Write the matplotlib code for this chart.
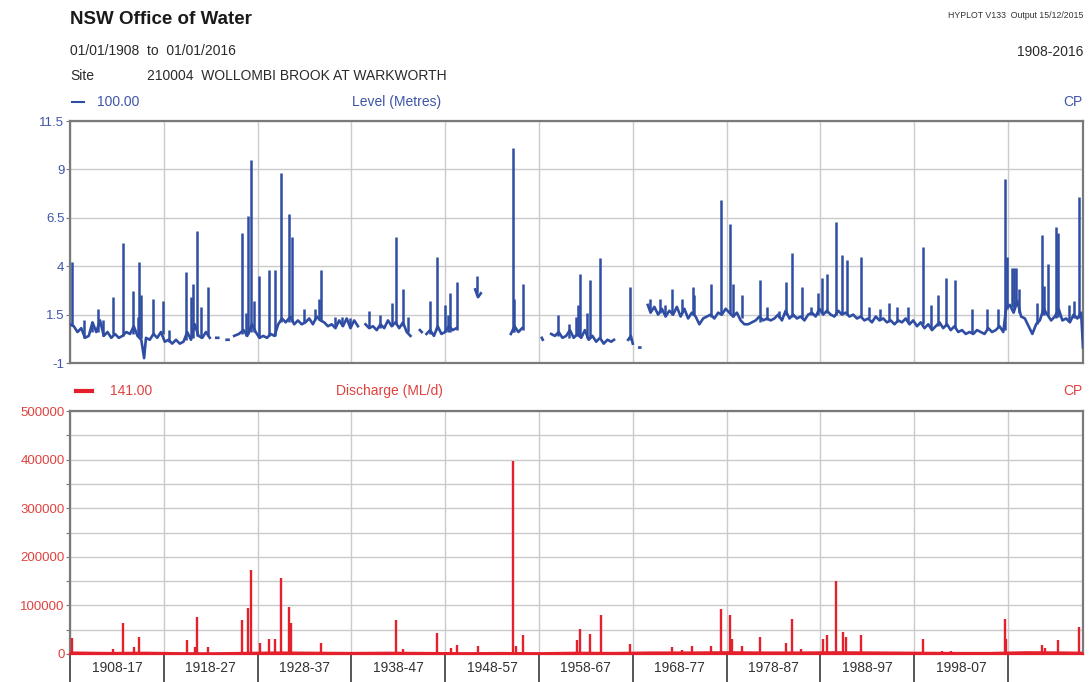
import numpy as np
import matplotlib
matplotlib.use("Agg")
import matplotlib.pyplot as plt
from matplotlib.lines import Line2D

plt.rcParams['font.family'] = ['Liberation Sans', 'DejaVu Sans']

nan = np.nan

# level (m) - baseline trace, nan marks a gap in the record
lvl_years = [1908.0, 1908.4, 1908.8, 1909.2, 1909.6, 1910.0, 1910.4, 1910.8, 1911.2, 1911.6,
             1912.0, 1912.4, 1912.8, 1913.2, 1913.6, 1914.0, 1914.4, 1914.8, 1915.2, 1915.6,
             1915.9, 1916.1, 1916.5, 1916.9, 1917.3, 1917.7, 1918.1, 1918.5, 1918.9, 1919.3,
             1919.7, 1920.1, 1920.5, 1920.9, 1921.3, 1921.7, 1922.1, 1922.5, 1922.9, 1923.2,
             1923.6, 1923.8, 1923.9, 1924.7, 1924.9, 1925.0, 1925.5, 1926.0, 1926.5, 1926.9,
             1927.4, 1927.8, 1928.2, 1928.6, 1929.0, 1929.4, 1929.8, 1930.2, 1930.6, 1931.0,
             1931.5, 1931.9, 1932.3, 1932.7, 1933.1, 1933.5, 1933.9, 1934.3, 1934.7, 1935.1,
             1935.5, 1935.9, 1936.3, 1936.7, 1937.1, 1937.5, 1937.9, 1938.3, 1938.7, 1939.1,
             1939.5, 1939.9, 1940.3, 1940.7, 1941.1, 1941.5, 1941.9, 1942.3, 1942.7, 1943.1,
             1943.5, 1943.9, 1944.3, 1944.6, 1945.3, 1945.5, 1945.7, 1946.0, 1946.4, 1946.8,
             1947.2, 1947.6, 1948.0, 1948.4, 1948.8, 1949.2, 1949.5, 1951.2, 1951.5, 1951.8,
             1952.0, 1955.0, 1955.4, 1955.8, 1956.2, 1956.5, 1958.3, 1958.4, 1958.5, 1959.3,
             1959.7, 1960.1, 1960.5, 1960.9, 1961.3, 1961.7, 1962.1, 1962.5, 1962.9, 1963.3,
             1963.7, 1964.1, 1964.5, 1964.9, 1965.3, 1965.7, 1966.0, 1966.2, 1967.5, 1967.8,
             1968.0, 1968.2, 1968.7, 1968.8, 1969.0, 1969.6, 1969.9, 1970.3, 1970.7, 1971.1,
             1971.5, 1971.9, 1972.3, 1972.7, 1973.1, 1973.5, 1973.9, 1974.3, 1974.7, 1975.1,
             1975.5, 1975.9, 1976.3, 1976.7, 1977.1, 1977.5, 1977.9, 1978.3, 1978.7, 1979.1,
             1979.5, 1979.9, 1980.3, 1980.7, 1981.1, 1981.5, 1981.9, 1982.3, 1982.7, 1983.1,
             1983.5, 1983.9, 1984.3, 1984.7, 1985.1, 1985.5, 1985.9, 1986.3, 1986.7, 1987.1,
             1987.5, 1987.9, 1988.3, 1988.7, 1989.1, 1989.5, 1989.9, 1990.3, 1990.7, 1991.1,
             1991.5, 1991.9, 1992.3, 1992.7, 1993.1, 1993.5, 1993.9, 1994.3, 1994.7, 1995.1,
             1995.5, 1995.9, 1996.3, 1996.7, 1997.1, 1997.5, 1997.9, 1998.3, 1998.7, 1999.1,
             1999.5, 1999.9, 2000.3, 2000.7, 2001.1, 2001.5, 2001.9, 2002.3, 2002.7, 2003.1,
             2003.5, 2003.9, 2004.3, 2004.7, 2005.1, 2005.5, 2005.9, 2006.3, 2006.7, 2007.1,
             2007.5, 2007.8, 2008.2, 2008.6, 2009.0, 2009.4, 2009.8, 2010.2, 2010.6, 2011.0,
             2011.4, 2011.8, 2012.2, 2012.6, 2013.0, 2013.4, 2013.8, 2014.2, 2014.6, 2015.0,
             2015.4, 2015.8, 2016.0]
lvl_vals = [1.0, 0.9, 0.6, 0.8, 0.3, 0.4, 1.1, 0.6, 1.2, 0.4,
            0.6, 0.3, 0.5, 0.3, 0.4, 0.6, 0.5, 0.9, 0.4, 0.2,
            -0.75, 0.3, 0.2, 0.5, 0.3, 0.6, 0.1, 0.2, 0.0, 0.2,
            0.0, 0.1, 0.6, 0.2, 1.0, 0.4, 0.3, 0.6, 0.3, nan,
            0.3, 0.3, nan, 0.2, 0.2, nan, 0.4, 0.5, 0.7, 0.4,
            1.0, 0.6, 0.3, 0.4, 0.3, 0.5, 0.4, 1.0, 1.3, 1.1,
            1.4, 1.0, 1.2, 1.0, 1.1, 1.3, 1.0, 1.4, 1.2, 1.1,
            0.9, 1.0, 0.8, 1.2, 0.9, 1.3, 0.8, 1.2, 0.9, nan,
            1.0, 0.8, 0.9, 0.7, 1.0, 0.8, 1.2, 0.9, 1.1, 0.8,
            1.1, 0.6, 0.4, nan, 0.7, 0.6, nan, 0.5, 0.7, 0.4,
            0.9, 0.5, 0.6, 0.9, 0.7, 0.8, nan, 2.8, 2.4, 2.6,
            nan, 0.5, 0.9, 0.6, 0.8, nan, 0.3, 0.2, nan, 0.5,
            0.4, 0.6, 0.3, 0.4, 0.7, 0.3, 0.5, 0.3, 0.7, 0.2,
            0.4, 0.1, 0.3, 0.0, 0.2, 0.1, 0.2, nan, 0.2, 0.4,
            0.0, nan, -0.2, -0.2, nan, 2.0, 1.6, 1.9, 1.5, 1.8,
            1.4, 1.7, 1.5, 1.9, 1.4, 1.8, 1.3, 1.6, 1.4, 1.0,
            1.3, 1.4, 1.5, 1.3, 1.6, 1.5, 1.8, 1.6, 1.4, 1.6,
            1.2, 1.0, 1.0, 1.1, 1.2, 1.4, 1.2, 1.3, 1.2, 1.3,
            1.5, 1.2, 1.7, 1.3, 1.5, 1.3, 1.4, 1.2, 1.5, 1.6,
            1.4, 1.8, 1.5, 1.7, 1.5, 1.4, 1.7, 1.5, 1.6, 1.4,
            1.5, 1.3, 1.4, 1.2, 1.3, 1.1, 1.4, 1.2, 1.3, 1.1,
            1.2, 1.0, 1.2, 1.1, 1.3, 1.0, 1.2, 0.9, 1.1, 0.8,
            1.0, 0.7, 0.9, 1.1, 0.8, 1.0, 0.7, 0.9, 0.6, 0.7,
            0.5, 0.6, 0.5, 0.7, 0.6, 0.5, 0.8, 0.6, 0.7, 0.9,
            0.6, 1.8, 2.0, 1.6, 2.2, 1.4, 1.3, 0.9, 0.5, 1.0,
            1.2, 1.8, 1.5, 1.2, 1.4, 1.8, 1.2, 1.3, 1.1, 1.5,
            1.3, 1.6, -0.2]

# level flood peaks: year, peak, level at foot of the peak
lvl_peak_years = [1908.2, 1909.5, 1910.3, 1911.0, 1911.5, 1912.6, 1913.7, 1914.7, 1915.2, 1915.4,
                  1915.6, 1916.9, 1917.9, 1918.6, 1920.4, 1920.95, 1921.1, 1921.5, 1922.0, 1922.7,
                  1926.3, 1926.8, 1927.0, 1927.3, 1927.6, 1928.2, 1929.2, 1929.9, 1930.5, 1931.3,
                  1931.7, 1932.9, 1934.1, 1934.6, 1934.8, 1936.3, 1937.0, 1937.8, 1939.9, 1941.0,
                  1942.3, 1942.8, 1943.5, 1944.0, 1946.4, 1947.1, 1948.0, 1948.3, 1948.5, 1949.3,
                  1951.4, 1955.2, 1955.3, 1956.3, 1960.0, 1961.2, 1961.9, 1962.2, 1962.4, 1963.1,
                  1963.4, 1964.5, 1967.7, 1969.8, 1970.9, 1971.4, 1972.2, 1973.3, 1974.4, 1974.5,
                  1976.3, 1977.4, 1978.4, 1978.7, 1979.6, 1981.6, 1982.3, 1983.6, 1984.3, 1985.0,
                  1986.0, 1987.0, 1987.7, 1988.2, 1988.7, 1989.7, 1990.3, 1990.8, 1992.3, 1993.2,
                  1994.4, 1995.3, 1996.2, 1997.3, 1998.9, 1999.8, 2000.5, 2001.4, 2002.4, 2004.2,
                  2005.8, 2006.9, 2007.7, 2007.85, 2008.4, 2008.6, 2008.9, 2009.2, 2011.1, 2011.6,
                  2011.8, 2012.3, 2013.1, 2013.3, 2014.5, 2015.0, 2015.6]
lvl_peak_tops = [4.2, 1.2, 1.1, 1.8, 1.2, 2.4, 5.2, 2.7, 1.4, 4.2,
                 2.5, 2.3, 2.2, 0.7, 3.7, 2.4, 3.1, 5.8, 1.9, 2.9,
                 5.7, 1.6, 6.6, 9.5, 2.2, 3.5, 3.8, 3.8, 8.8, 6.7,
                 5.5, 1.8, 1.8, 2.3, 3.8, 1.4, 1.4, 1.3, 1.7, 1.5,
                 2.1, 5.5, 2.8, 1.4, 2.2, 4.5, 2.0, 1.5, 2.6, 3.2,
                 3.5, 10.1, 2.3, 3.1, 1.5, 1.0, 1.4, 2.0, 3.6, 1.6,
                 3.3, 4.4, 2.9, 2.3, 2.3, 2.0, 2.8, 2.3, 2.9, 2.5,
                 3.1, 7.4, 6.2, 3.1, 2.5, 3.3, 1.9, 1.7, 3.2, 4.7,
                 2.9, 1.9, 2.6, 3.4, 3.6, 6.3, 4.6, 4.3, 4.5, 1.9,
                 1.8, 2.1, 1.9, 1.9, 5.0, 2.0, 2.5, 3.4, 3.3, 1.8,
                 1.8, 1.8, 8.5, 4.5, 3.9, 3.9, 3.9, 2.8, 2.1, 5.6,
                 3.0, 4.1, 6.0, 5.7, 2.0, 2.2, 7.6]
lvl_peak_feet = [0.9, 0.3, 0.6, 0.6, 0.4, 0.5, 0.4, 0.5, 0.4, 0.4,
                 0.3, 0.5, 0.5, 0.1, 0.2, 0.3, 0.3, 0.4, 0.3, 0.4,
                 0.5, 0.4, 0.5, 0.6, 0.6, 0.3, 0.4, 0.4, 1.1, 1.1,
                 1.1, 1.1, 1.2, 1.2, 1.2, 0.9, 0.9, 0.9, 0.8, 0.8,
                 0.9, 1.0, 0.9, 0.6, 0.5, 0.7, 0.6, 0.6, 0.6, 0.7,
                 2.6, 0.6, 0.6, 0.7, 0.4, 0.3, 0.4, 0.4, 0.4, 0.3,
                 0.3, 0.3, 0.2, 1.8, 1.6, 1.5, 1.5, 1.6, 1.5, 1.5,
                 1.4, 1.5, 1.6, 1.4, 1.3, 1.1, 1.2, 1.3, 1.5, 1.4,
                 1.3, 1.5, 1.5, 1.6, 1.6, 1.5, 1.6, 1.5, 1.4, 1.3,
                 1.2, 1.2, 1.1, 1.1, 1.0, 0.8, 0.9, 0.9, 0.8, 0.6,
                 0.7, 0.8, 0.7, 1.8, 1.9, 1.8, 2.0, 1.6, 1.0, 1.5,
                 1.5, 1.5, 1.3, 1.4, 1.2, 1.3, 1.3]

# discharge (ML/d)
q_base_years = [1908, 1912, 1916, 1920, 1923, 1926, 1930, 1934, 1938, 1942, 1946, 1950,
                1954, 1958, 1962, 1966, 1970, 1974, 1978, 1982, 1986, 1990, 1994, 1998,
                2002, 2006, 2010, 2014, 2016]
q_base_vals = [2500, 1500, 2000, 1000, 800, 1500, 2500, 2000, 1500, 2000, 1500, 1000,
               1500, 1000, 2000, 1500, 2500, 2500, 3000, 2500, 2500, 3000, 2500, 2000,
               1500, 1500, 3000, 2500, 2000]
q_peak_years = [1908.2, 1912.6, 1913.7, 1914.8, 1915.4, 1917.1, 1917.9, 1920.5, 1921.3, 1921.5,
                1922.7, 1926.3, 1927.0, 1927.3, 1928.3, 1929.2, 1929.9, 1930.5, 1931.3, 1931.6,
                1934.8, 1942.8, 1943.5, 1947.1, 1948.6, 1949.3, 1951.5, 1955.2, 1955.5, 1956.3,
                1960.0, 1962.1, 1962.4, 1963.4, 1964.6, 1967.7, 1969.9, 1971.0, 1972.2, 1973.3,
                1974.3, 1976.3, 1977.4, 1978.4, 1978.6, 1979.6, 1981.6, 1984.3, 1985.0, 1985.9,
                1988.3, 1988.7, 1989.7, 1990.4, 1990.7, 1992.3, 1998.9, 2001.0, 2001.9, 2007.7,
                2007.8, 2008.4, 2011.6, 2012.0, 2013.3, 2015.6]
q_peak_vals = [32000, 10000, 63000, 15000, 36000, 5000, 5000, 29000, 15000, 76000,
               15000, 70000, 94000, 173000, 22000, 30000, 30000, 156000, 97000, 63000,
               22000, 70000, 10000, 43000, 12000, 19000, 16000, 398000, 16000, 39000,
               5000, 29000, 51000, 41000, 80000, 20000, 4000, 5000, 15000, 8000,
               16000, 16000, 92000, 80000, 30000, 16000, 36000, 23000, 72000, 11000,
               31000, 39000, 150000, 46000, 36000, 40000, 30000, 7000, 7000, 72000,
               30000, 5000, 18500, 12000, 28800, 55000]

decades = list(range(1908, 2009, 10))
decade_labels = ['1908-17', '1918-27', '1928-37', '1938-47', '1948-57', '1958-67',
                 '1968-77', '1978-87', '1988-97', '1998-07']
lvl_ticks = [-1, 1.5, 4, 6.5, 9, 11.5]
lvl_ticklabels = ['-1', '1.5', '4', '6.5', '9', '11.5']
q_ticks = list(range(0, 500001, 50000))
q_ticklabels = [str(v) if v % 100000 == 0 else '' for v in q_ticks]

BLUE = '#2f4ea3'
BLUE_TXT = '#3e55a8'
RED = '#e3202b'
RED_TXT = '#e0423f'
FRAME = '#7a7a7a'
GRID = '#cbcbcb'

W, H = 1089, 682
fig = plt.figure(figsize=(W / 100, H / 100), dpi=100)


def fx(px):
    return px / W


def fy(py):
    return 1 - py / H


ax1 = fig.add_axes([fx(70), fy(363), fx(1083) - fx(70), fy(121) - fy(363)])
ax2 = fig.add_axes([fx(70), fy(654), fx(1083) - fx(70), fy(411) - fy(654)])

ax1.plot(lvl_years, lvl_vals, color=BLUE, lw=1.9, zorder=3)
ax1.vlines(lvl_peak_years, lvl_peak_feet, lvl_peak_tops, color=BLUE, lw=1.8, zorder=3)
ax2.plot(q_base_years, q_base_vals, color=RED, lw=2.0, zorder=3)
ax2.vlines(q_peak_years, 0, q_peak_vals, color=RED, lw=1.7, zorder=3)

for ax in (ax1, ax2):
    ax.set_xlim(1908, 2016)
    ax.set_xticks(decades)
    ax.grid(True, color=GRID, lw=1.0, zorder=0)
    for s in ax.spines.values():
        s.set_color(FRAME)
        s.set_linewidth(1.6)

ax1.set_ylim(-1, 11.5)
ax1.set_yticks(lvl_ticks)
ax1.set_yticklabels(lvl_ticklabels)
ax1.tick_params(axis='y', colors=FRAME, labelcolor=BLUE_TXT, labelsize=9.5, length=3, pad=1)
ax1.tick_params(axis='x', length=0, labelbottom=False)

ax2.set_ylim(0, 500000)
ax2.set_yticks(q_ticks)
ax2.set_yticklabels(q_ticklabels)
ax2.tick_params(axis='y', colors=FRAME, labelcolor=RED_TXT, labelsize=9.5, length=3, pad=1)
ax2.tick_params(axis='x', which='major', direction='out', length=26, width=1.4, color='#555555',
                labelbottom=False)
ax2.set_xticks([d + 5 for d in decades[:-1]], minor=True)
ax2.set_xticklabels(decade_labels, minor=True)
ax2.tick_params(axis='x', which='minor', length=0, labelsize=10, pad=5, labelcolor='#333333')
ax2.spines['bottom'].set_color(RED)

# header text
fig.text(fx(70), fy(20), 'NSW Office of Water', fontsize=13.5, fontweight='bold',
         va='center', ha='left', color='#1a1a1a')
fig.text(fx(1083), fy(16), 'HYPLOT V133  Output 15/12/2015', fontsize=6.3, va='center',
         ha='right', color='#333333')
fig.text(fx(70), fy(51), '01/01/1908  to  01/01/2016', fontsize=10, va='center', ha='left',
         color='#2a2a2a')
fig.text(fx(1083), fy(52), '1908-2016', fontsize=10, va='center', ha='right', color='#2a2a2a')
fig.text(fx(70), fy(76), 'Site', fontsize=10, va='center', ha='left', color='#2a2a2a')
fig.text(fx(147), fy(76), '210004  WOLLOMBI BROOK AT WARKWORTH', fontsize=10, va='center',
         ha='left', color='#2a2a2a')

# series captions
fig.add_artist(Line2D([fx(72), fx(84)], [fy(102), fy(102)], color=BLUE, lw=1.5))
fig.text(fx(97), fy(102), '100.00', fontsize=10, va='center', ha='left', color=BLUE_TXT)
fig.text(fx(352), fy(102), 'Level (Metres)', fontsize=10, va='center', ha='left', color=BLUE_TXT)
fig.text(fx(1083), fy(102), 'CP', fontsize=10, va='center', ha='right', color=BLUE_TXT)

fig.add_artist(Line2D([fx(76), fx(92)], [fy(391), fy(391)], color=RED, lw=3))
fig.text(fx(110), fy(391), '141.00', fontsize=10, va='center', ha='left', color=RED_TXT)
fig.text(fx(336), fy(391), 'Discharge (ML/d)', fontsize=10, va='center', ha='left', color=RED_TXT)
fig.text(fx(1083), fy(391), 'CP', fontsize=10, va='center', ha='right', color=RED_TXT)

fig.savefig('out.png', dpi=100)
